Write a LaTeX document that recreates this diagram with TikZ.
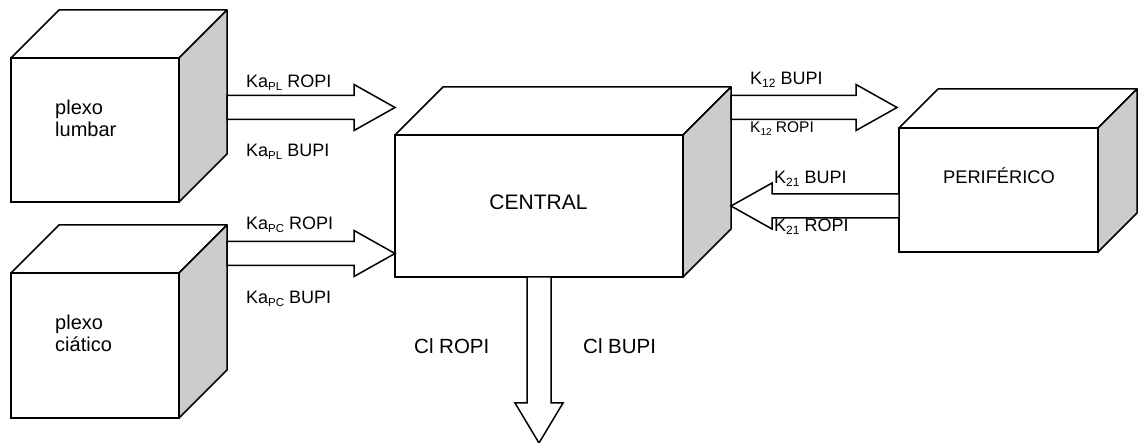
\documentclass[tikz,border=0pt]{standalone}
\usepackage{fontspec}
\setmainfont{Liberation Sans}
\usetikzlibrary{calc}

% small lowered index used in the rate-constant labels
\newcommand\idx[2][11.5]{\raisebox{-2.5pt}{\fontsize{#1}{#1}\selectfont #2}}

% extra faces of a box drawn in oblique view: top face and shaded right face
\newcommand\boxsides[2]{%
  \filldraw[topface] (#1.north west) -- ++(#2,-#2) -- ([shift={(#2,-#2)}]#1.north east) -- (#1.north east) -- cycle;
  \filldraw[sideface] (#1.north east) -- ++(#2,-#2) -- ([shift={(#2,-#2)}]#1.south east) -- (#1.south east) -- cycle;}

% wide hollow arrow between two points on a horizontal line
\newcommand\harrow[2]{%
  \draw[blockarrow] let \p1=(#1), \p2=(#2), \n1={ifthenelse(\x2>\x1,1,-1)} in
    (\x1,{\y1+12pt}) -- ({\x2-\n1*41pt},{\y1+12pt}) -- ({\x2-\n1*41pt},{\y1+23pt}) -- (\x2,\y1)
    -- ({\x2-\n1*41pt},{\y1-23pt}) -- ({\x2-\n1*41pt},{\y1-12pt}) -- (\x1,{\y1-12pt}) -- cycle;}

% wide hollow arrow pointing downwards
\newcommand\varrow[2]{%
  \draw[blockarrow] let \p1=(#1), \p2=(#2) in
    ({\x1-12pt},\y1) -- ({\x1-12pt},{\y2+40pt}) -- ({\x1-24pt},{\y2+40pt}) -- (\x1,\y2)
    -- ({\x1+24pt},{\y2+40pt}) -- ({\x1+12pt},{\y2+40pt}) -- ({\x1+12pt},\y1) -- cycle;}

\begin{document}
\begin{tikzpicture}[x=1pt,y=-1pt,
  front/.style={draw, fill=white, line width=1.5pt, rectangle, inner sep=0pt, outer sep=0pt},
  topface/.style={fill=white, draw, line width=1.5pt, line join=round},
  sideface/.style={fill=black!20, draw, line width=1.5pt, line join=round},
  blockarrow/.style={draw, fill=white, line width=1.5pt},
  boxtext/.style={font=\fontsize{20}{22.5}\selectfont, inner sep=0pt, align=left, anchor=base west},
  lab/.style={anchor=base west, inner sep=0pt, font=\fontsize{18}{21}\selectfont},
  labsmall/.style={lab, font=\fontsize{15.5}{18}\selectfont},
  labbig/.style={lab, font=\fontsize{20.5}{23}\selectfont}]
\useasboundingbox (0,0) rectangle (1138,443);

% compartments
\node[front, minimum width=168pt, minimum height=144pt] (lumbar) at (95,130) {};
\boxsides{lumbar}{48}
\node[front, minimum width=168pt, minimum height=145pt] (ciatico) at (95,345.5) {};
\boxsides{ciatico}{48}
\node[front, minimum width=288pt, minimum height=142pt] (central) at (539,206) {};
\boxsides{central}{48}
\node[front, minimum width=199pt, minimum height=124pt] (periferico) at (998.5,190) {};
\boxsides{periferico}{39}

\node[boxtext] (lumbartxt) at (55,137) {plexo\\lumbar};
\node[boxtext] (ciaticotxt) at (55,352) {plexo\\ciático};
\node[anchor=base, inner sep=0pt, font=\fontsize{21}{24}\selectfont] (centraltxt) at (538.5,210) {CENTRAL};
\node[anchor=base, inner sep=0pt, font=\fontsize{18.3}{21}\selectfont] (perifericotxt) at (999,184) {PERIFÉRICO};

% arrow end points
\path (lumbar.east) ++(48,-22.5) coordinate (plT);
\path (plT -| central.west) coordinate (plH);
\path (ciatico.north east) ++(48,-19.5) coordinate (pcT);
\path (pcT -| central.west) coordinate (pcH);
\path (central.east) ++(48,-98.5) coordinate (k12T);
\path (k12T -| periferico.west) ++(-2,0) coordinate (k12H);
\path (periferico.west) ++(0,16) coordinate (k21T);
\path (k21T -| central.east) ++(48,0) coordinate (k21H);
\path (central.south) coordinate (clT);
\path (clT) ++(0,166) coordinate (clH);

\harrow{plT}{plH}
\harrow{pcT}{pcH}
\harrow{k12T}{k12H}
\harrow{k21T}{k21H}
\varrow{clT}{clH}

% rate labels
\node[lab] (plr) at (246,88) {Ka\idx{PL} ROPI};
\node[lab] (plb) at (246,157) {Ka\idx{PL} BUPI};
\node[lab] (pcr) at (246,230) {Ka\idx{PC} ROPI};
\node[lab] (pcb) at (246,304) {Ka\idx{PC} BUPI};
\node[lab] (k12b) at (750,85) {K\idx[12]{12} BUPI};
\node[labsmall] (k12r) at (750,133) {K\idx[10]{12} ROPI};
\node[lab] (k21b) at (774,184) {K\idx[12]{21} BUPI};
\node[lab] (k21r) at (774,232) {K\idx[12]{21} ROPI};
\node[labbig] (clr) at (414,354) {Cl ROPI};
\node[labbig] (clb) at (583,354) {Cl BUPI};
\end{tikzpicture}
\end{document}
